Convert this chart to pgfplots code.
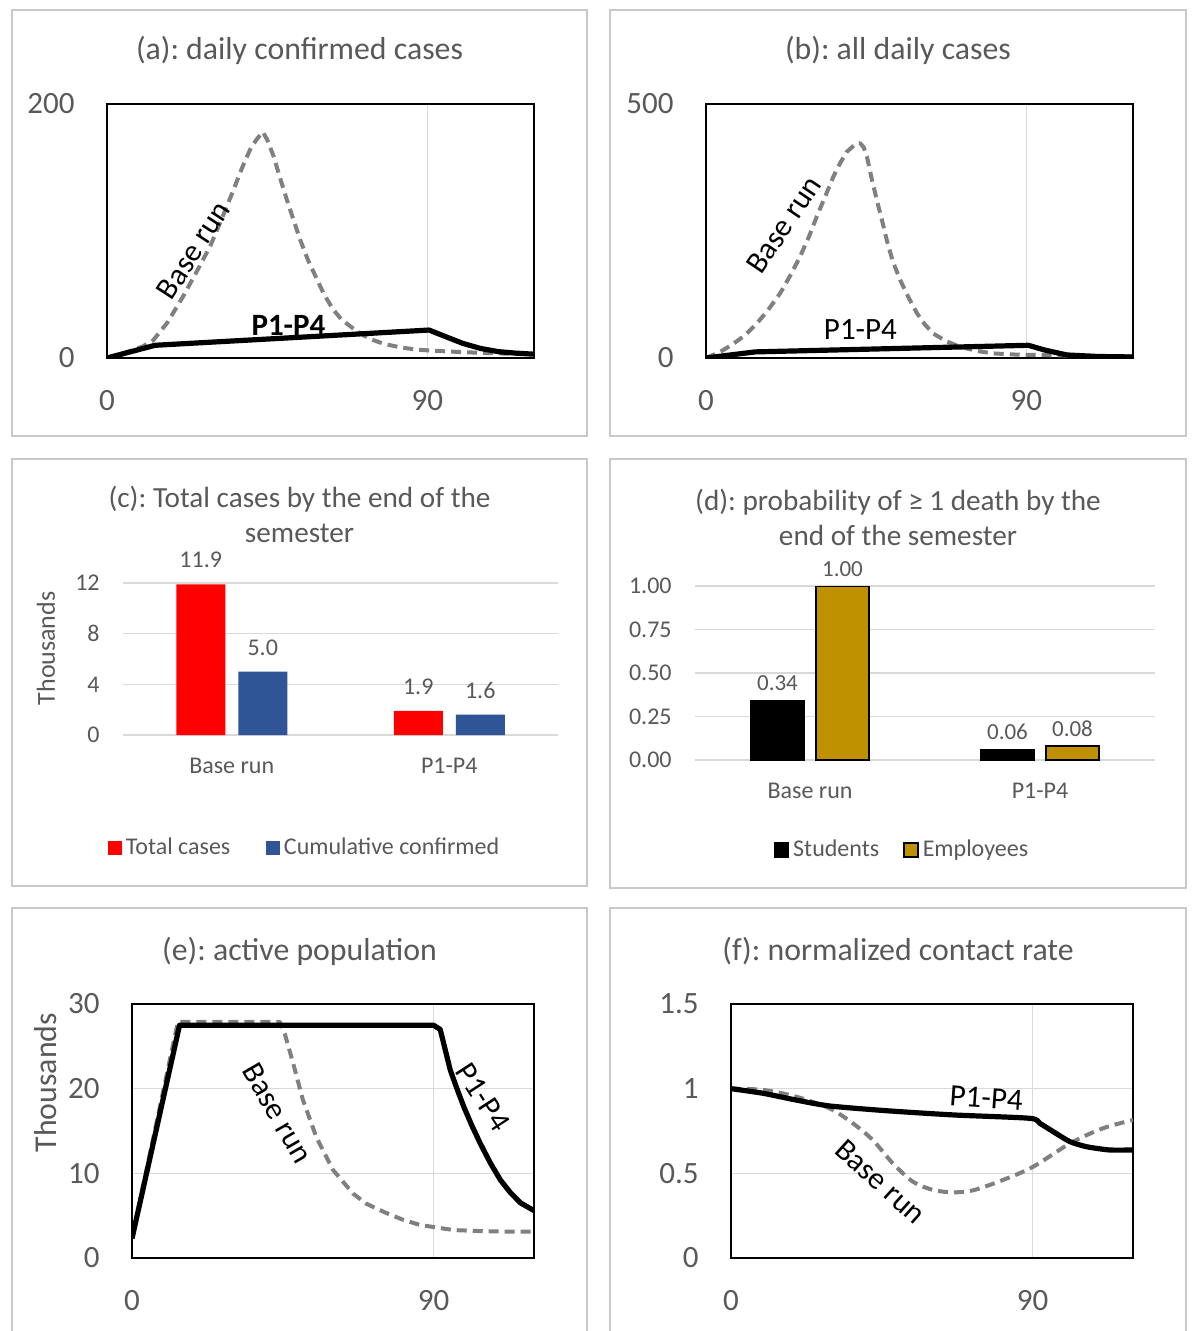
\documentclass[border=0pt]{standalone}
\usepackage{fontspec}
\setmainfont{Carlito}
\usepackage{pgfplots}
\pgfplotsset{compat=1.18}
\frenchspacing
\definecolor{txt}{HTML}{595959}
\definecolor{grd}{HTML}{D9D9D9}
\definecolor{frm}{HTML}{C8C8C8}
\definecolor{dgray}{HTML}{808080}
\definecolor{cred}{HTML}{FF0000}
\definecolor{cblue}{HTML}{2F5597}
\definecolor{cgold}{HTML}{BF9000}
\newcommand{\fT}{\fontsize{15.9}{19}\selectfont}
\newcommand{\fTs}{\fontsize{14.6}{17.5}\selectfont}
\newcommand{\fK}{\fontsize{15.5}{18}\selectfont}
\newcommand{\fS}{\fontsize{12}{14}\selectfont}
\pgfplotsset{
  /pgf/number format/assume math mode=true,
  /pgf/number format/1000 sep={},
  lineax/.style={scale only axis, height=127pt, xmin=0, xmax=120, xtick={0,90},
    grid=major, grid style={grd, line width=0.75pt},
    axis line style={black, line width=1.3pt},
    major tick length=0pt,
    tick label style={font=\fK, text=txt, inner sep=0pt},
    yticklabel style={xshift=-16pt},
    xticklabel style={yshift=-16pt}},
  baserun/.style={dgray, line width=2pt, dash pattern=on 5pt off 3pt, line join=round},
  ponep/.style={black, line width=2.6pt, line join=round},
  barax/.style={scale only axis, ybar, xmin=-0.5, xmax=1.5, xtick={0,1},
    xticklabels={Base run, P1-P4}, ymin=0,
    axis line style={draw=none}, ymajorgrids, grid style={grd, line width=0.75pt},
    major tick length=0pt,
    tick label style={font=\fS, text=txt, inner sep=0pt},
    yticklabel style={xshift=-11.5pt},
    xticklabel style={yshift=-11.5pt},
    nodes near coords,
    legend cell align=left,
    legend image code/.code={\path[##1] (0pt,-3.4pt) rectangle (6.8pt,3.4pt);}},
}
\begin{document}
\begin{tikzpicture}
\useasboundingbox (0,0) rectangle (595.5pt,-665.5pt);
\fill[white] (0,0) rectangle (595.5pt,-665.5pt);
% frames
\draw[frm, line width=0.75pt] (6pt,-5pt) rectangle (293.5pt,-218pt);
\draw[frm, line width=0.75pt] (305pt,-5pt) rectangle (593pt,-218pt);
\draw[frm, line width=0.75pt] (6pt,-229.5pt) rectangle (293.5pt,-443pt);
\draw[frm, line width=0.75pt] (305pt,-229.5pt) rectangle (593pt,-444pt);
\draw[frm, line width=0.75pt] (6pt,-454pt) rectangle (293.5pt,-680pt);
\draw[frm, line width=0.75pt] (305pt,-454pt) rectangle (593pt,-680pt);
% titles
\node[anchor=base, font=\fT, text=txt, inner sep=0pt] at (149.75pt,-30pt) {(a): daily confirmed cases};
\node[anchor=base, font=\fT, text=txt, inner sep=0pt] at (449pt,-30pt) {(b): all daily cases};
\node[anchor=base, font=\fTs, text=txt, inner sep=0pt] at (149.75pt,-253.5pt) {(c): Total cases by the end of the};
\node[anchor=base, font=\fTs, text=txt, inner sep=0pt] at (149.75pt,-271pt) {semester};
\node[anchor=base, font=\fTs, text=txt, inner sep=0pt] at (449pt,-255pt) {(d): probability of ≥ 1 death by the};
\node[anchor=base, font=\fTs, text=txt, inner sep=0pt] at (449pt,-272.5pt) {end of the semester};
\node[anchor=base, font=\fT, text=txt, inner sep=0pt] at (149.75pt,-480pt) {(e): active population};
\node[anchor=base, font=\fT, text=txt, inner sep=0pt] at (449pt,-480pt) {(f): normalized contact rate};
\node[rotate=90, font=\fontsize{13}{15}\selectfont, text=txt, inner sep=0pt] at (23pt,-324.2pt) {Thousands};
\node[rotate=90, font=\fT, text=txt, inner sep=0pt] at (22.8pt,-541.3pt) {Thousands};

% (a)
\begin{axis}[lineax, at={(53.5pt,-52pt)}, anchor=north west, width=213.5pt,
  ymin=0, ymax=200, ytick={0,200}]
\addplot[baserun] coordinates {(0,0) (5,4) (10,9) (13,14) (17,28) (21.5,49) (25,67) (29,88) (32,108) (35.5,132) (38,150) (40.2,164) (42,172) (43.8,178) (45,172) (46.8,159) (48.5,143) (50.5,125) (52.5,108) (54.3,93) (56.5,77) (59,62) (61,50) (63.6,38) (66,30) (69.3,23) (72,18) (74.9,14) (78,11) (82.4,8.4) (87,6.6) (91.8,5.7) (100,4.6) (110,3.6) (120,3)};
\addplot[ponep] coordinates {(0,0) (13.5,10) (90.5,22) (95,17) (100,11.5) (105,7.5) (110,5) (115,3.8) (120,3)};
\node[rotate=57, font=\fK, inner sep=0pt] at (axis cs:24.3,85) {Base run};
\node[font=\fK\bfseries, inner sep=0pt] at (axis cs:51,26) {P1-P4};
\end{axis}

% (b)
\begin{axis}[lineax, at={(353pt,-52pt)}, anchor=north west, width=213.5pt,
  ymin=0, ymax=500, ytick={0,500}]
\addplot[baserun] coordinates {(0,0) (4,12) (7.7,28) (11,45) (14.3,68) (17.5,95) (20.8,127) (23.5,160) (26.4,199) (29,240) (31.1,278) (33.5,318) (35.8,357) (37.8,385) (39.6,406) (41.5,418) (43.3,423) (44.3,415) (45.2,397) (46.5,355) (48,311) (49.5,270) (50.8,232) (52.5,190) (54.6,153) (57,118) (59.3,88) (61.5,66) (63.9,48) (67.5,33) (71.4,22) (76,14) (80.8,9) (86,7) (92,6) (100,5) (110,3.5) (120,3)};
\addplot[ponep] coordinates {(0,0) (13.8,12) (90.6,25) (95,16) (101.4,6) (110,3) (120,2)};
\node[rotate=56, font=\fK, inner sep=0pt] at (axis cs:21.9,262) {Base run};
\node[font=\fK, inner sep=0pt] at (axis cs:43.4,57) {P1-P4};
\end{axis}

% (c)
\begin{axis}[barax, at={(61.5pt,-291.5pt)}, anchor=north west, width=217.5pt, height=76pt,
  ymax=12, ytick={0,4,8,12}, bar width=24.5pt,
  nodes near coords style={font=\fS, text=txt, inner sep=0pt, yshift=8pt,
    /pgf/number format/.cd, fixed, fixed zerofill, precision=1},
  legend style={draw=none, fill=none, legend columns=2, at={(0.42,-0.743)}, anchor=center,
    font=\fS, text=txt, /tikz/every even column/.append style={column sep=16pt}}]
\addplot[fill=cred, draw=none, bar shift=-15.5pt] coordinates {(0,11.9) (1,1.9)};
\addplot[fill=cblue, draw=none, bar shift=15.5pt] coordinates {(0,5.0) (1,1.6)};
\legend{Total cases, Cumulative confirmed}
\end{axis}

% (d)
\begin{axis}[barax, at={(347.5pt,-293pt)}, anchor=north west, width=230pt, height=87pt,
  ymax=1, ytick={0,0.25,0.5,0.75,1}, bar width=26.5pt,
  yticklabel style={/pgf/number format/.cd, fixed, fixed zerofill, precision=2},
  nodes near coords style={font=\fontsize{11.5}{13}\selectfont, text=txt, inner sep=0pt, yshift=4.5pt,
    /pgf/number format/.cd, fixed, fixed zerofill, precision=2},
  legend image code/.code={\path[#1] (0pt,-3.5pt) rectangle (7pt,3.5pt);},
  legend style={draw=none, fill=none, legend columns=2, at={(0.452,-0.517)}, anchor=center,
    font=\fS, text=txt, /tikz/every even column/.append style={column sep=10pt}}]
\addplot[fill=black, draw=black, line width=0.75pt, bar shift=-16.25pt] coordinates {(0,0.34) (1,0.06)};
\addplot[fill=cgold, draw=black, line width=0.75pt, bar shift=16.25pt] coordinates {(0,1.00) (1,0.08)};
\legend{Students, Employees}
\end{axis}

% (e)
\begin{axis}[lineax, at={(66pt,-502pt)}, anchor=north west, width=201pt,
  ymin=0, ymax=30, ytick={0,10,20,30}]
\addplot[baserun] coordinates {(0,2.3) (13.7,27.9) (44.1,27.9) (45.6,26.5) (48.1,23) (51,18.7) (55,14.3) (60,10.4) (66,7.6) (70,6.4) (76,5.3) (81,4.5) (86,3.9) (96,3.3) (106,3.15) (120,3.1)};
\addplot[ponep] coordinates {(0,2.3) (14.2,27.5) (90,27.5) (92,27) (95,22.2) (97,20) (99,17.9) (101.5,15.6) (104,13.5) (107,11.2) (110,9.2) (113,7.7) (116,6.5) (120,5.6)};
\node[rotate=-60, font=\fK, inner sep=0pt] at (axis cs:43.5,17.1) {Base run};
\node[rotate=-57, font=\fK, inner sep=0pt] at (axis cs:104.8,19) {P1-P4};
\end{axis}

% (f)
\begin{axis}[lineax, at={(365.5pt,-502pt)}, anchor=north west, width=201pt,
  ymin=0, ymax=1.5, ytick={0,0.5,1,1.5}]
\addplot[baserun, smooth] coordinates {(0,1.0) (9.5,0.993) (19.4,0.953) (29.4,0.884) (36.4,0.795) (42.3,0.697) (48.3,0.559) (54.3,0.451) (60.3,0.402) (66.3,0.388) (72.3,0.40) (81.2,0.461) (90.2,0.539) (101.2,0.677) (111,0.766) (120,0.815)};
\addplot[ponep, smooth, tension=0.4] coordinates {(0,1.0) (9.5,0.973) (19.4,0.933) (29.4,0.898) (46.3,0.870) (66.3,0.845) (89.2,0.825) (92.2,0.795) (96.2,0.746) (101.2,0.687) (106.2,0.657) (113,0.638) (120,0.638)};
\node[rotate=-4, font=\fK, inner sep=0pt] at (axis cs:76.2,0.945) {P1-P4};
\node[rotate=-42, font=\fK, inner sep=0pt] at (axis cs:44.6,0.45) {Base run};
\end{axis}
\end{tikzpicture}
\end{document}
